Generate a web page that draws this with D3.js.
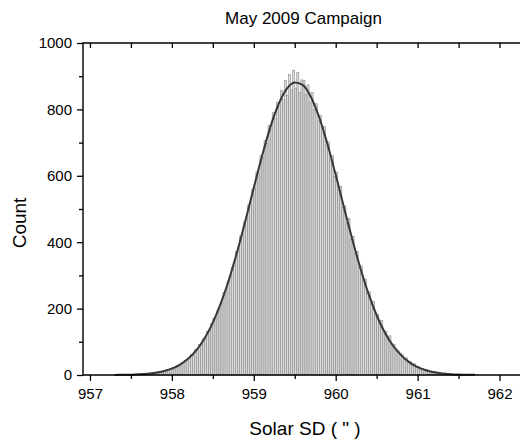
<!DOCTYPE html>
<html>
  <head>
    <title>May 2009 Campaign</title>
    <script src="https://d3js.org/d3.v7.min.js"></script>
    <style>
      body { margin: 0; background: #fff; }
      svg text { font-family: "Liberation Sans", Arial, sans-serif; fill: #000; }
    </style>
  </head>
  <body>
    <svg id="chart" width="520" height="441"></svg>
    <script>
      // histogram: first bin edge and bin width (arcsec)
      var binStart = 957.3;
      var binWidth = 0.025;
      // counts per bin
      var counts = [
        0, 1, 0, 0,   1, 0, 1, 1,   0, 2, 1, 3,   2, 4, 1, 3,
        5, 3, 6, 5,   6, 10, 7, 12,   10, 16, 13, 19,   23, 18, 29, 27,
        36, 34, 44, 45,   50, 62, 59, 76,   77, 92, 94, 109,   112, 131, 136, 155,
        170, 172, 196, 201,   219, 248, 255, 283,   296, 324, 331, 372,   379, 418, 421, 461,
        470, 512, 516, 560,   563, 612, 606, 661,   655, 706, 698, 752,   741, 790, 772, 822,
        808, 858, 830, 887,   842, 905, 860, 918,   864, 912, 851, 889,   887, 846, 874, 822,
        851, 800, 817, 765,   782, 732, 748, 690,   702, 648, 661, 598,   611, 556, 568, 504,
        509, 458, 472, 410,   418, 366, 372, 322,   328, 283, 289, 246,   250, 214, 222, 181,
        182, 158, 164, 129,   132, 116, 118, 94,   92, 79, 74, 66,   61, 48, 52, 38,
        41, 30, 34, 22,   26, 17, 20, 12,   16, 10, 12, 7,   10, 6, 7, 4,
        5, 3, 4, 2,   3, 1, 2, 1,   2, 0, 1, 1,   1, 0, 0, 1
      ];
      // gaussian fit line
      var fitX = [957.3, 957.4, 957.5, 957.6, 957.7, 957.8, 957.9, 958.0, 958.1, 958.2,
                  958.3, 958.4, 958.5, 958.6, 958.7, 958.8, 958.9, 959.0, 959.1, 959.2,
                  959.3, 959.4, 959.5, 959.6, 959.7, 959.8, 959.9, 960.0, 960.1, 960.2,
                  960.3, 960.4, 960.5, 960.6, 960.7, 960.8, 960.9, 961.0, 961.1, 961.2,
                  961.3, 961.4, 961.5, 961.6, 961.7];
      var fitY = [0.3, 0.5, 1.0, 2.0, 3.7, 6.6, 11.5, 19.4, 31.5, 49.5,
                  75, 111, 158, 218, 290, 374, 467, 564, 659, 745,
                  814, 861, 881, 873, 836, 775, 695, 603, 506, 411,
                  323, 245, 180, 128, 88, 59, 38, 23.6, 14.2, 8.3,
                  4.7, 2.6, 1.4, 0.7, 0.4];
      var xTicks = [957, 958, 959, 960, 961, 962];
      var yTicks = [0, 200, 400, 600, 800, 1000];

      function drawChart() {
        var svg = d3.select("#chart");
        var mLeft = 83, mRight = 520, mTop = 43, mBottom = 375;

        var x = d3.scaleLinear().domain([956.915, 962.25]).range([mLeft, mRight]);
        var y = d3.scaleLinear().domain([0, 1000]).range([mBottom, mTop]);

        var plot = svg.append("g");

        // bars
        plot.selectAll("rect.bar")
          .data(counts)
          .join("rect")
          .classed("bar", true)
          .attr("x", function(d, i) { return x(binStart + i * binWidth); })
          .attr("width", function(d, i) { return x(binStart + (i + 1) * binWidth) - x(binStart + i * binWidth); })
          .attr("y", function(d) { return y(d); })
          .attr("height", function(d) { return mBottom - y(d); })
          .style("fill", "#dadada")
          .style("stroke", "#8c8c8c")
          .style("stroke-width", 0.6);

        // fit curve
        var line = d3.line()
          .x(function(d) { return x(d[0]); })
          .y(function(d) { return y(d[1]); })
          .curve(d3.curveMonotoneX);
        plot.append("path")
          .datum(d3.zip(fitX, fitY))
          .attr("d", line)
          .style("fill", "none")
          .style("stroke", "#383838")
          .style("stroke-width", 2);

        // axes
        var xMinor = d3.range(957.5, 962.1, 1);
        var yMinor = d3.range(100, 1000, 200);

        var xAxis = d3.axisBottom(x).tickValues(xTicks).tickSize(6).tickPadding(7).tickFormat(d3.format("d"));
        var gx = svg.append("g").attr("transform", "translate(0," + mBottom + ")").call(xAxis);
        gx.append("g").call(d3.axisBottom(x).tickValues(xMinor).tickSize(4).tickFormat(""));

        var xTop = d3.axisBottom(x).tickValues(xTicks.concat(xMinor)).tickSize(5).tickFormat("");
        svg.append("g").attr("transform", "translate(0," + mTop + ")").call(xTop);

        var yAxis = d3.axisLeft(y).tickValues(yTicks).tickSize(6).tickPadding(5).tickFormat(d3.format("d"));
        var gy = svg.append("g").attr("transform", "translate(" + mLeft + ",0)").call(yAxis);
        gy.append("g").call(d3.axisLeft(y).tickValues(yMinor).tickSize(4).tickFormat(""));

        svg.selectAll(".domain").remove();
        svg.selectAll(".tick line").style("stroke", "#000").style("stroke-width", 1.3);
        svg.selectAll(".tick text").style("font-size", "15px").style("fill", "#000");

        // frame lines (left, bottom, top)
        svg.append("path")
          .attr("d", "M" + mRight + "," + mTop + "H" + mLeft + "V" + mBottom + "H" + mRight)
          .style("fill", "none")
          .style("stroke", "#000")
          .style("stroke-width", 1.4);

        svg.append("text")
          .attr("x", (mLeft + mRight) / 2 + 2)
          .attr("y", 24)
          .attr("text-anchor", "middle")
          .style("font-size", "17px")
          .text("May 2009 Campaign");

        svg.append("text")
          .attr("x", 305)
          .attr("y", 435)
          .attr("text-anchor", "middle")
          .style("font-size", "19px")
          .text("Solar SD ( \" )");

        svg.append("text")
          .attr("transform", "translate(26,223) rotate(-90)")
          .attr("text-anchor", "middle")
          .style("font-size", "19px")
          .text("Count");
      }

      drawChart();
    </script>
  </body>
</html>
